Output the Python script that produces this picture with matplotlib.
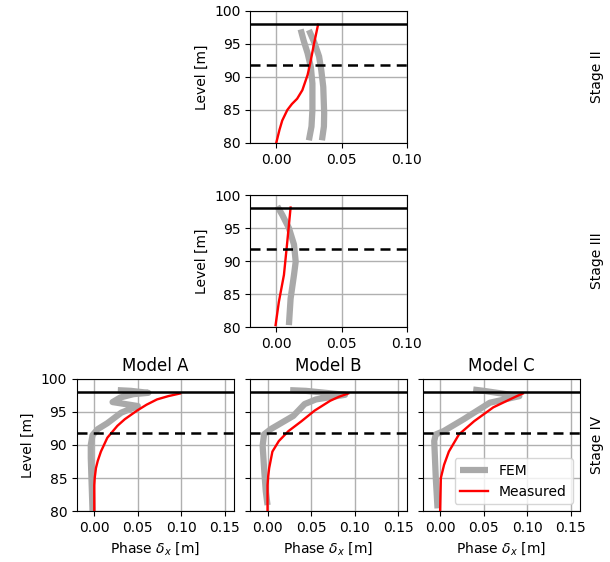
import matplotlib.pyplot as plt
import numpy as np

# water / excavation levels [m]
top_level = 98.0
dash_level = 91.8

# Stage II (top panel)
s2_meas_x = [0.0, 0.0025, 0.0046, 0.0085, 0.012, 0.016, 0.020, 0.024, 0.026, 0.029, 0.032]
s2_meas_y = [80.0, 82.0, 83.4, 85.0, 85.9, 86.7, 88.0, 90.3, 92.05, 95.1, 97.9]
s2_fem1_x = [0.0250, 0.0270, 0.0277, 0.0277, 0.0265, 0.024, 0.021, 0.0187]
s2_fem1_y = [80.4, 82.5, 85.0, 89.0, 91.5, 93.6, 95.5, 97.2]
s2_fem2_x = [0.0350, 0.0365, 0.0367, 0.0360, 0.0345, 0.0328, 0.029, 0.025]
s2_fem2_y = [80.4, 82.5, 84.5, 88.5, 91.0, 93.1, 95.3, 97.1]

# Stage III (middle panel)
s3_meas_x = [-0.0005, 0.002, 0.0059, 0.0085, 0.011]
s3_meas_y = [80.3, 83.8, 87.9, 93.0, 98.1]
s3_fem_x = [0.0097, 0.011, 0.0136, 0.0149, 0.0136, 0.0097, 0.0046, 0.0008]
s3_fem_y = [80.3, 84.3, 87.9, 89.9, 92.5, 95.0, 97.0, 98.3]

# Stage IV, Model A/B/C
a_meas_x = [0.0, 0.0, 0.0005, 0.0019, 0.004, 0.0076, 0.015, 0.0265, 0.035, 0.049, 0.060, 0.072, 0.085, 0.0985]
a_meas_y = [80.0, 83.9, 85.0, 86.5, 87.6, 89.0, 91.1, 92.9, 93.9, 95.2, 96.1, 96.9, 97.4, 97.8]
a_fem_x = [-0.002, -0.003, -0.004, -0.004, -0.002, 0.004, 0.015, 0.031, 0.050,
           0.021, 0.030, 0.045, 0.062, 0.042, 0.027]
a_fem_y = [80.0, 84.0, 88.0, 90.0, 91.5, 92.4, 93.3, 94.9, 95.9,
           96.5, 97.2, 97.7, 97.9, 98.2, 98.3]

b_meas_x = [0.0, 0.0, 0.0008, 0.0019, 0.0056, 0.013, 0.024, 0.039, 0.054, 0.072, 0.082, 0.0926]
b_meas_y = [80.0, 83.9, 85.3, 86.5, 89.0, 90.6, 92.1, 93.6, 95.2, 96.7, 97.3, 97.8]
b_fem_x = [0.0, -0.002, -0.0037, -0.0056, -0.004, 0.0037, 0.0296, 0.0426, 0.0556,
           0.089, 0.044, 0.026]
b_fem_y = [80.9, 83.0, 86.0, 89.9, 91.6, 92.4, 94.4, 96.2, 96.9,
           97.6, 98.2, 98.3]

c_meas_x = [0.0, 0.0008, 0.0045, 0.010, 0.0216, 0.039, 0.061, 0.080, 0.088, 0.095]
c_meas_y = [80.0, 85.0, 87.0, 89.0, 91.6, 93.6, 95.7, 96.9, 97.4, 97.8]
c_fem_x = [-0.003, -0.005, -0.0068, -0.005, 0.004, 0.027, 0.057, 0.091, 0.050, 0.038]
c_fem_y = [80.4, 85.0, 90.6, 91.6, 92.1, 93.9, 96.4, 97.4, 98.2, 98.4]

models = ['Model A', 'Model B', 'Model C']
stages = ['Stage II', 'Stage III', 'Stage IV']

fig = plt.figure(figsize=(6.1, 5.62), dpi=100)

lefts = [0.126, 0.410, 0.693]
bottoms = [0.7456, 0.418, 0.0907]
w, h = 0.257, 0.235

fem_kw = dict(color='#a9a9a9', lw=4.5, solid_capstyle='butt')
meas_kw = dict(color='red', lw=1.7)


def style(ax, xlim, xticks):
    ax.set_xlim(*xlim)
    ax.set_ylim(80, 100)
    ax.set_xticks(xticks)
    ax.set_yticks([80, 85, 90, 95, 100])
    ax.grid(True, color='#b0b0b0', lw=1.0)
    ax.set_axisbelow(True)
    ax.axhline(top_level, color='black', lw=1.8)
    ax.axhline(dash_level, color='black', lw=1.8, ls='--', dashes=(4, 2.5))
    ax.tick_params(labelsize=10)


ax1 = fig.add_axes([lefts[1], bottoms[0], w, h])
ax1.plot(s2_fem1_x, s2_fem1_y, **fem_kw)
ax1.plot(s2_fem2_x, s2_fem2_y, **fem_kw)
ax1.plot(s2_meas_x, s2_meas_y, **meas_kw)
style(ax1, (-0.02, 0.10), [0.0, 0.05, 0.10])
ax1.set_xticklabels(['0.00', '0.05', '0.10'])
ax1.set_ylabel('Level [m]')

ax2 = fig.add_axes([lefts[1], bottoms[1], w, h])
ax2.plot(s3_fem_x, s3_fem_y, **fem_kw)
ax2.plot(s3_meas_x, s3_meas_y, **meas_kw)
style(ax2, (-0.02, 0.10), [0.0, 0.05, 0.10])
ax2.set_xticklabels(['0.00', '0.05', '0.10'])
ax2.set_ylabel('Level [m]')

fem_data = [(a_fem_x, a_fem_y), (b_fem_x, b_fem_y), (c_fem_x, c_fem_y)]
meas_data = [(a_meas_x, a_meas_y), (b_meas_x, b_meas_y), (c_meas_x, c_meas_y)]
for i in range(3):
    ax = fig.add_axes([lefts[i], bottoms[2], w, h])
    ax.plot(*fem_data[i], label='FEM', **fem_kw)
    ax.plot(*meas_data[i], label='Measured', **meas_kw)
    style(ax, (-0.02, 0.16), [0.0, 0.05, 0.10, 0.15])
    ax.set_xticklabels(['0.00', '0.05', '0.10', '0.15'])
    ax.set_title(models[i], fontsize=12)
    ax.set_xlabel(r'Phase $\delta_x$ [m]')
    if i == 0:
        ax.set_ylabel('Level [m]')
    else:
        ax.set_yticklabels([])
    if i == 2:
        ax.legend(loc='lower right', fontsize=10, handlelength=2.0)

for j, s in enumerate(stages):
    fig.text(597 / 610, bottoms[j] + h / 2, s, rotation=90, ha='center', va='center', fontsize=10)

fig.savefig('out.png', dpi=100)
